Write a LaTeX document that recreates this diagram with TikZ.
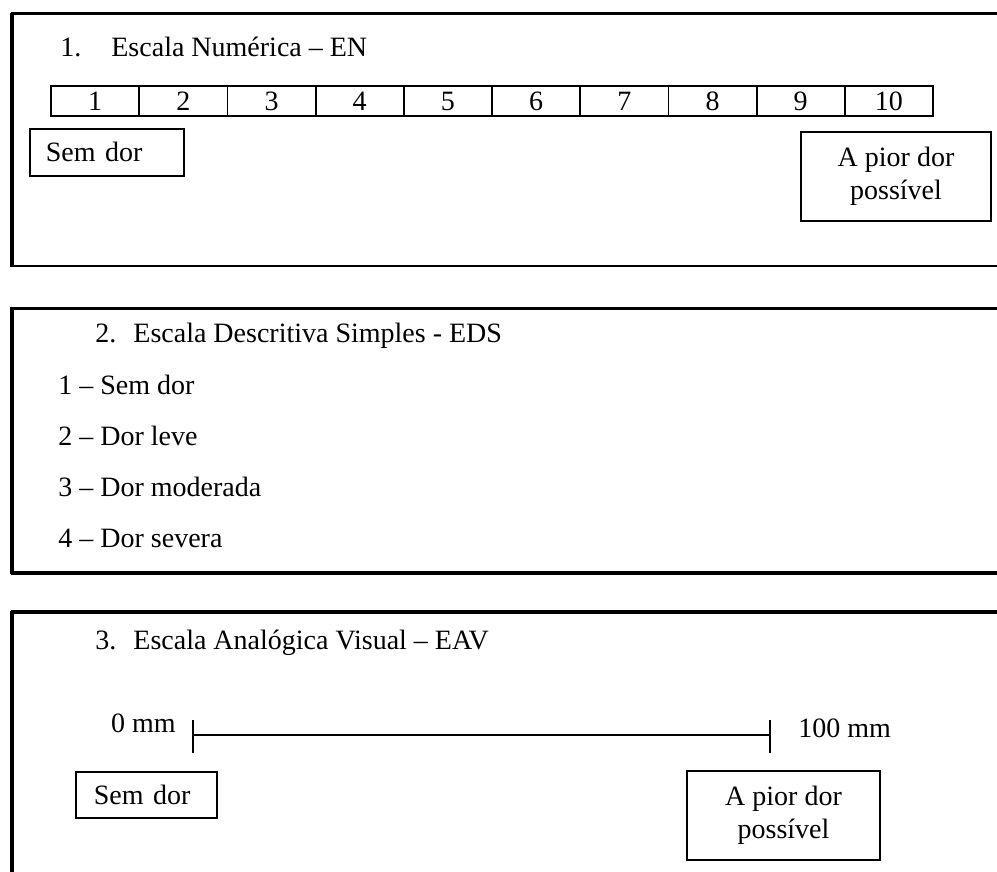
\documentclass[tikz,border=0pt]{standalone}
\usepackage{fontspec}
\setmainfont{Liberation Serif}
\begin{document}
\begin{tikzpicture}[x=.5pt,y=-.5pt,font=\fontsize{14}{16.5}\selectfont,
  cell/.style={draw,line width=.9pt,minimum width=44.1pt,minimum height=15pt,inner sep=0pt},
  lbox/.style={draw,line width=.9pt,anchor=north west,align=left,minimum height=23.5pt},
  rbox/.style={draw,line width=.9pt,align=center,minimum height=44.5pt,inner sep=0pt},
  txt/.style={anchor=base west,inner sep=0pt}]
\useasboundingbox (0,0) rectangle (997,872);
% frames, open on the right
\draw[line width=1.5pt] (997,14)--(11,14);\draw[line width=1.1pt] (11,266)--(997,266);
\draw[line width=2pt] (12,13)--(12,267);
\draw[line width=1.5pt] (997,308)--(11,308);\draw[line width=2pt] (11,573)--(997,573);
\draw[line width=2pt] (12,307)--(12,574);
\draw[line width=1.6pt] (997,612)--(11,612);\draw[line width=2pt] (12,611)--(12,872);
% 1. numeric scale
\node[txt] (t1) at (60,57){1.\hspace{15pt}Escala Numérica -- EN};
\foreach \n in {1,...,10}\node[cell] (c\n) at ({51+88.2*(\n-.5)},101){\n};
\node[lbox,text width=61pt,inner xsep=8pt] (a1) at (29,128){Sem dor};
\node[rbox,minimum width=95pt] (b1) at (896,176.5){A pior dor\\possível};
% 2. simple descriptive scale
\node[txt] (t2) at (95,343){2.\hspace{8.5pt}Escala Descritiva Simples - EDS};
\foreach \n/\s/\y in {1/Sem dor/394,2/Dor leve/445,3/Dor moderada/496,4/Dor severa/547}
  \node[txt] (d\n) at (58,\y){\n\ -- \s};
% 3. visual analogue scale
\node[txt] (t3) at (95,649){3.\hspace{8.5pt}Escala Analógica Visual -- EAV};
\coordinate (v0) at (193,735);\coordinate (v100) at (770,735);
\draw[line width=.6pt] (v0)--(v100);
\draw[line width=.7pt] ([yshift=7.5pt]v0)--([yshift=-9pt]v0);
\draw[line width=1.1pt] ([yshift=7.5pt]v100)--([yshift=-9pt]v100);
\node[anchor=base east,inner sep=0pt] (l0) at (176,732){0 mm};
\node[txt] (l100) at (798,737){100 mm};
\node[lbox,text width=52.5pt,inner xsep=9pt,minimum height=23pt] (a3) at (75,771){Sem dor};
\node[rbox,minimum width=96.5pt] (b3) at (783.5,815.5){A pior dor\\possível};
\end{tikzpicture}
\end{document}
